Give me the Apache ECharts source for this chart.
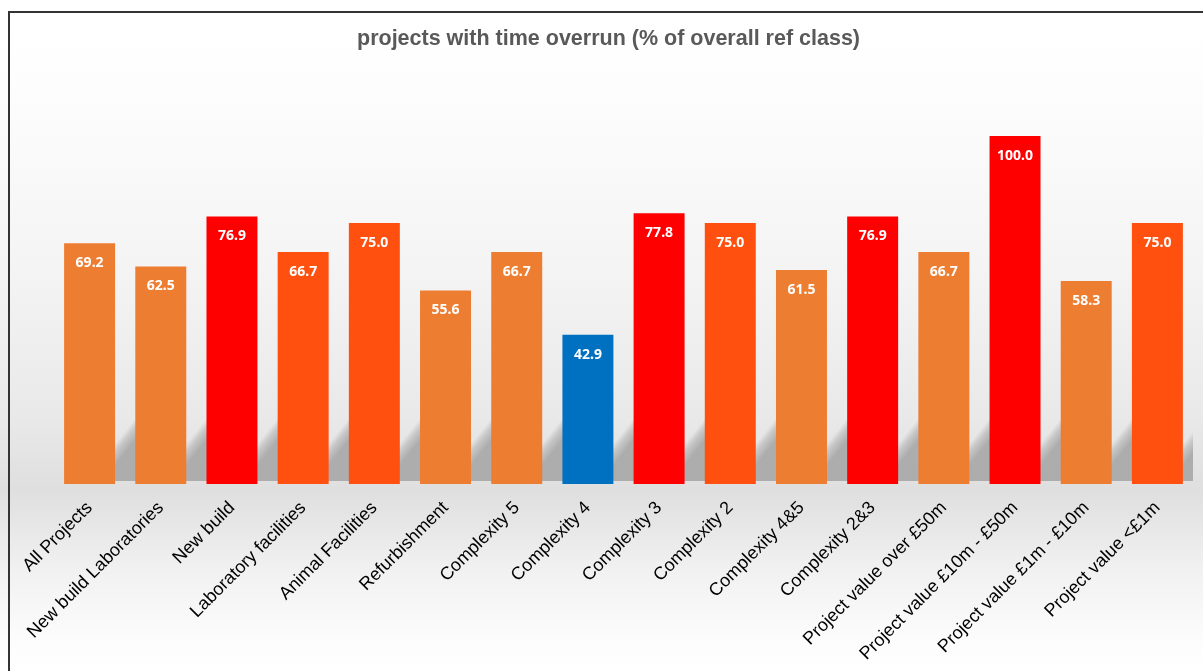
<!DOCTYPE html>
<html>
<head>
<meta charset="utf-8">
<script src="https://cdn.jsdelivr.net/npm/echarts@6/dist/echarts.min.js"></script>
<style>
  html, body { margin: 0; padding: 0; background: #ffffff; }
  #chart { width: 1203px; height: 671px; }
</style>
</head>
<body>
<div id="chart"></div>
<script>
// ---- data ----
const categories = [
  'All Projects', 'New build Laboratories', 'New build', 'Laboratory facilities',
  'Animal Facilities', 'Refurbishment', 'Complexity 5', 'Complexity 4',
  'Complexity 3', 'Complexity 2', 'Complexity 4&5', 'Complexity 2&3',
  'Project value over £50m', 'Project value £10m - £50m', 'Project value £1m - £10m', 'Project value <£1m'
];
const values = [69.2, 62.5, 76.9, 66.7, 75.0, 55.6, 66.7, 42.9, 77.8, 75.0, 61.5, 76.9, 66.7, 100.0, 58.3, 75.0];
const colourGroup = ['orange', 'orange', 'red', 'orangered', 'orangered', 'orange', 'orange', 'blue',
                     'red', 'orangered', 'orange', 'red', 'orange', 'red', 'orange', 'orangered'];
const titleText = 'projects with time overrun (% of overall ref class)';

// ---- styles ----
const palette = { orange: '#ED7D31', red: '#FF0000', orangered: '#FF500F', blue: '#0070C0' };
const BAR_FRAC = 0.716;

const chart = echarts.init(document.getElementById('chart'), null, { renderer: 'canvas' });

const option = {
  animation: false,
  backgroundColor: {
    type: 'linear', x: 0, y: 0, x2: 0, y2: 1,
    colorStops: [
      { offset: 0, color: '#ffffff' },
      { offset: 0.1, color: '#fefefe' },
      { offset: 0.4, color: '#f4f4f4' },
      { offset: 0.62, color: '#e9e9e9' },
      { offset: 0.73, color: '#dfdfdf' },
      { offset: 0.85, color: '#f1f1f1' },
      { offset: 0.95, color: '#fcfcfc' },
      { offset: 1, color: '#ffffff' }
    ]
  },
  title: {
    text: titleText,
    left: 352, top: 23,
    textStyle: { fontFamily: 'Liberation Sans, Arial, sans-serif', fontSize: 21.5, fontWeight: 'bold', color: '#595959' }
  },
  grid: { left: 54, right: 10, top: 136, bottom: 187, containLabel: false },
  xAxis: {
    type: 'category',
    data: categories,
    axisLine: { show: false },
    axisTick: { show: false },
    axisLabel: {
      interval: 0, rotate: 45, margin: 21,
      fontFamily: 'Liberation Sans, Arial, sans-serif', fontSize: 18, color: '#000000'
    }
  },
  yAxis: { type: 'value', min: 0, max: 100, show: false, splitLine: { show: false } },
  graphic: [
    { type: 'line', z: 100, shape: { x1: 8, y1: 12, x2: 1203, y2: 12 }, style: { stroke: '#333333', lineWidth: 2 } },
    { type: 'line', z: 100, shape: { x1: 9, y1: 11, x2: 9, y2: 671 }, style: { stroke: '#333333', lineWidth: 2 } }
  ],
  series: [
    {
      type: 'custom',
      clip: true,
      z: 1,
      silent: true,
      data: values.map((v, i) => [i, v]),
      encode: { x: 0, y: 1 },
      renderItem: function (params, api) {
        const idx = api.value(0);
        const base = api.coord([idx, 0]);
        const band = api.size([1, 0])[0];
        const w = band * BAR_FRAC;
        const xR = base[0] + w / 2;
        const slope = 1.25;
        const y0 = base[1] - 3;
        const ax = xR - 30;
        const xEnd = xR + (band - w) + 1;
        const hEnd = (xEnd - ax) * slope;
        const len = Math.sqrt(slope * slope + 1);
        const nx = slope / len, ny = 1 / len;
        return {
          type: 'polygon',
          shape: { points: [[ax, y0], [xEnd, y0], [xEnd, y0 - hEnd]] },
          style: {
            fill: {
              type: 'linear', global: true,
              x: ax, y: y0, x2: ax + nx * 14, y2: y0 + ny * 14,
              colorStops: [
                { offset: 0, color: 'rgba(170,170,170,0)' },
                { offset: 0.4, color: 'rgba(170,170,170,0.5)' },
                { offset: 1, color: 'rgba(170,170,170,0.95)' }
              ]
            }
          }
        };
      }
    },
    {
      type: 'bar',
      z: 2,
      barWidth: (BAR_FRAC * 100) + '%',
      data: values.map((v, i) => ({ value: v, itemStyle: { color: palette[colourGroup[i]] } })),
      label: {
        show: true, position: 'insideTop', distance: 13,
        formatter: p => p.value.toFixed(1),
        fontFamily: 'Noto Sans, sans-serif', fontSize: 14, fontWeight: 'bold', color: '#ffffff'
      }
    }
  ]
};
chart.setOption(option);
</script>
</body>
</html>
